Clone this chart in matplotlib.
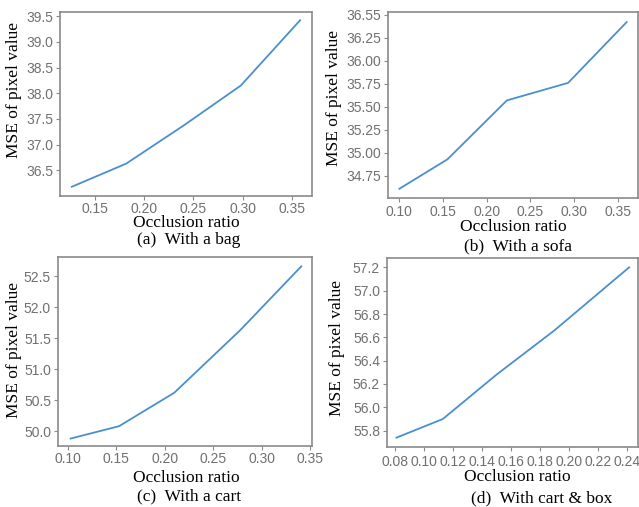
import matplotlib.pyplot as plt

# Dados
bag_x = [0.127, 0.182, 0.240, 0.298, 0.358]
bag_y = [36.18, 36.63, 37.37, 38.15, 39.42]

sofa_x = [0.100, 0.155, 0.223, 0.293, 0.360]
sofa_y = [34.61, 34.93, 35.57, 35.76, 36.42]

cart_x = [0.103, 0.153, 0.210, 0.278, 0.341]
cart_y = [49.88, 50.08, 50.62, 51.63, 52.66]

box_x = [0.081, 0.113, 0.150, 0.190, 0.2415]
box_y = [55.74, 55.90, 56.28, 56.66, 57.20]

sofa_ticks = [34.75, 35.00, 35.25, 35.50, 35.75, 36.00, 36.25, 36.50]
sofa_tick_labels = ["34.75", "35.00", "35.25", "35.50", "35.75", "36.00", "36.25", "36.55"]

captions = ["(a)  With a bag", "(b)  With a sofa", "(c)  With a cart", "(d)  With cart & box"]

W, H = 639, 507
fig = plt.figure(figsize=(6.39, 5.07), dpi=100)

# posição dos eixos em pixels: esquerda, direita, topo, base
boxes = [(60, 312, 12, 196), (388, 638, 12, 198), (58, 312, 257, 446), (387, 638, 258, 447)]
series = [(bag_x, bag_y), (sofa_x, sofa_y), (cart_x, cart_y), (box_x, box_y)]
# posição dos textos (px): ylabel x/centro y, xlabel x/y, legenda x/y
ylab_pos = [(22, 90), (342, 98), (22, 350), (345, 348)]
xlab_pos = [(186, 223), (513, 227), (186, 478), (517, 477)]
cap_pos = [(189, 240), (518, 246), (189, 496), (542, 498)]
tick_pad = [1.0, 2.0, 1.5, 3.0]

serif = "Liberation Serif"
sans = "Liberation Sans"

for i, ((l, r, t, b), (x, y)) in enumerate(zip(boxes, series)):
    ax = fig.add_axes([l / W, 1 - b / H, (r - l) / W, (b - t) / H])
    ax.plot(x, y, color="#4a8fcf", linewidth=1.3)
    for s in ax.spines.values():
        s.set_color("#8a8a8a")
        s.set_linewidth(1.2)
    ax.tick_params(colors="#8a8a8a", labelcolor="#707070", length=3, width=0.8, labelsize=10)
    ax.tick_params(axis="x", pad=tick_pad[i])
    ax.tick_params(axis="y", pad=2)
    ax.set_ylabel("MSE of pixel value", fontsize=12.5, fontfamily=serif)
    yx, yy = ylab_pos[i]
    ax.yaxis.set_label_coords((yx - l) / (r - l), (b - yy) / (b - t))
    fig.text(xlab_pos[i][0] / W, 1 - xlab_pos[i][1] / H, "Occlusion ratio",
             ha="center", va="center", fontsize=12.5, fontfamily=serif)
    fig.text(cap_pos[i][0] / W, 1 - cap_pos[i][1] / H, captions[i],
             ha="center", va="center", fontsize=12.5, fontfamily=serif)

axes = fig.axes
axes[0].set_xticks([0.15, 0.20, 0.25, 0.30, 0.35])
axes[0].set_yticks([36.5, 37.0, 37.5, 38.0, 38.5, 39.0, 39.5])
axes[0].set_xlim(0.115, 0.37)
axes[0].set_ylim(36.0, 39.58)

axes[1].set_xticks([0.10, 0.15, 0.20, 0.25, 0.30, 0.35])
axes[1].set_yticks(sofa_ticks)
axes[1].set_xlim(0.087, 0.373)
axes[1].set_ylim(34.51, 36.53)

axes[2].set_xticks([0.10, 0.15, 0.20, 0.25, 0.30, 0.35])
axes[2].set_yticks([50.0, 50.5, 51.0, 51.5, 52.0, 52.5])
axes[2].set_xlim(0.09, 0.352)
axes[2].set_ylim(49.76, 52.81)

axes[3].set_xticks([0.08, 0.10, 0.12, 0.14, 0.16, 0.18, 0.20, 0.22, 0.24])
axes[3].set_yticks([55.8, 56.0, 56.2, 56.4, 56.6, 56.8, 57.0, 57.2])
axes[3].set_xlim(0.0745, 0.2476)
axes[3].set_ylim(55.66, 57.28)

for ax in axes:
    ax.set_xticklabels([f"{v:.2f}" for v in ax.get_xticks()], fontfamily=sans)
    if ax is not axes[1]:
        ax.set_yticklabels([f"{v:.1f}" for v in ax.get_yticks()], fontfamily=sans)
    else:
        ax.set_yticklabels(sofa_tick_labels, fontfamily=sans)

fig.savefig("out.png", dpi=100)
